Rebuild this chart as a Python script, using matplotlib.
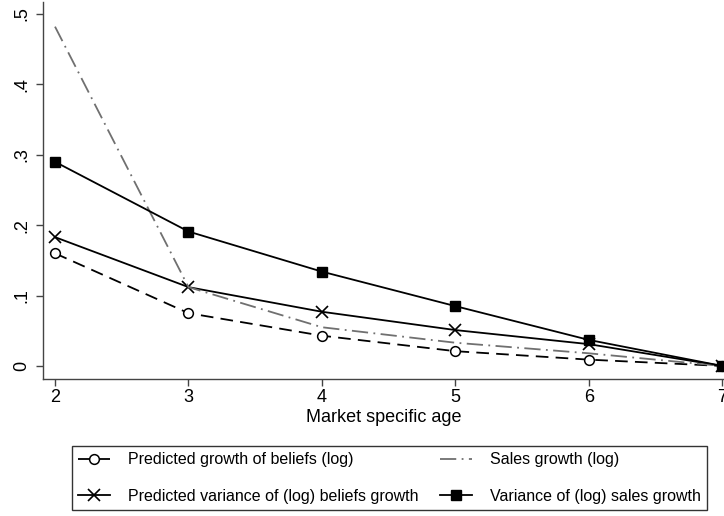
import matplotlib
matplotlib.use("Agg")
import matplotlib.pyplot as plt

plt.rcParams['font.family'] = ['Liberation Sans', 'DejaVu Sans']

# Data
AGE = [2, 3, 4, 5, 6, 7]
BELIEFS_GROWTH = [0.160, 0.075, 0.043, 0.021, 0.009, 0.0]
BELIEFS_VARIANCE = [0.183, 0.112, 0.077, 0.051, 0.031, 0.0]
SALES_GROWTH = [0.482, 0.112, 0.055, 0.033, 0.018, 0.0]
SALES_VARIANCE = [0.290, 0.191, 0.134, 0.085, 0.037, 0.0]

YTICKS = [0, 0.1, 0.2, 0.3, 0.4, 0.5]
YTICK_LABELS = ['0', '.1', '.2', '.3', '.4', '.5']

fig = plt.figure(figsize=(7.24, 5.16), dpi=100)
ax = fig.add_axes([43 / 724, 1 - 379 / 516, 1 - 43 / 724, (379 - 2) / 516])

lw = 1.3
h1, = ax.plot(AGE, BELIEFS_GROWTH, color='black', lw=lw, dashes=(7, 4),
              marker='o', markersize=7, markerfacecolor='white',
              markeredgecolor='black', markeredgewidth=1.1,
              label='Predicted growth of beliefs (log)')
h2, = ax.plot(AGE, BELIEFS_VARIANCE, color='black', lw=lw, marker='x',
              markersize=8, markeredgewidth=1.2,
              label='Predicted variance of (log) beliefs growth')
h3, = ax.plot(AGE, SALES_GROWTH, color='#707070', lw=lw,
              dashes=(9, 3, 1, 3), label='Sales growth (log)')
h4, = ax.plot(AGE, SALES_VARIANCE, color='black', lw=lw, marker='s',
              markersize=7, label='Variance of (log) sales growth')

ax.set_xlim(1.91, 7.012)
ax.set_ylim(-0.0185, 0.517)
ax.set_xticks(AGE)
ax.set_yticks(YTICKS)
ax.set_yticklabels(YTICK_LABELS, rotation=90, va='center')
ax.tick_params(axis='both', labelsize=13, length=5, width=1, color='#444444')
ax.tick_params(axis='x', pad=2)
ax.tick_params(axis='y', pad=4)
ax.spines['top'].set_visible(False)
ax.spines['right'].set_visible(False)
for s in ['left', 'bottom']:
    ax.spines[s].set_color('#444444')
    ax.spines[s].set_linewidth(1)
ax.set_xlabel('Market specific age', fontsize=13, labelpad=2)

leg = fig.legend([h1, h2, h3, h4],
                 [h.get_label() for h in [h1, h2, h3, h4]],
                 ncol=2, loc='center', mode='expand',
                 bbox_to_anchor=(72 / 724, 1 - 514 / 516, 635 / 724, 72 / 516),
                 borderaxespad=0, fontsize=11.5, frameon=True, fancybox=False,
                 handlelength=2.0, handletextpad=1.1, borderpad=0.4,
                 labelspacing=1.35, columnspacing=1.2)
leg.get_frame().set_edgecolor('black')
leg.get_frame().set_linewidth(1)

fig.savefig('out.png', dpi=100)
